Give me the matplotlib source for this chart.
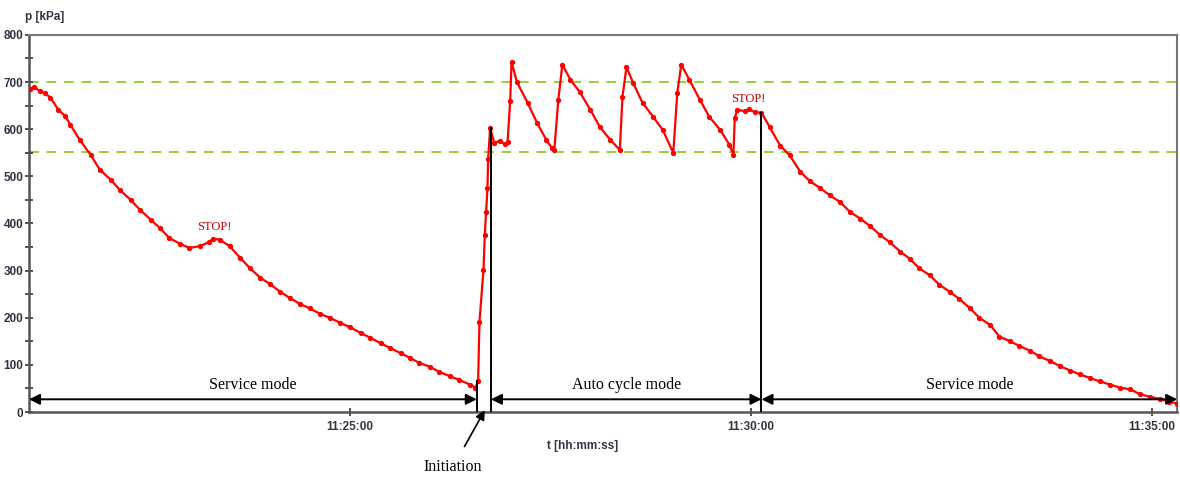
import matplotlib
matplotlib.use("Agg")
import matplotlib.pyplot as plt
from matplotlib.ticker import MultipleLocator, FuncFormatter

# time in seconds after 11:21:00, pressure in kPa
t_sec = [1, 4, 8, 12, 16, 22, 27, 31, 38, 46, 53, 61, 68, 76, 83, 91, 98, 105, 113, 120, 128,
         135, 138, 143, 150, 158, 165, 173, 180, 188, 195, 203, 210, 218, 225, 233, 240, 248,
         255, 263, 270, 278, 285, 292, 300, 307, 315, 322, 330, 334,
         336, 337, 340, 341, 342, 343, 343.5, 345,
         348, 352, 356, 358, 360, 361, 365, 373, 380, 387, 391, 393, 396, 399, 405,
         412, 420, 427, 435, 442, 444, 447, 452, 459, 467, 474, 482, 485, 488, 494,
         502, 509, 517, 524, 527, 528, 530, 536, 539, 543, 548,
         554, 562, 569, 577, 584, 592, 599, 607, 614, 622, 629, 637, 644, 652, 659,
         666, 674, 681, 689, 696, 704, 711, 719, 726, 734, 741, 749, 756, 764, 771,
         779, 786, 794, 801, 809, 816, 824, 831, 839, 846, 853, 859]
p_kpa = [685, 690, 680, 676, 667, 641, 628, 609, 577, 546, 514, 493, 471, 450, 429, 408, 390, 369,
         357, 348, 352,
         361, 368, 365, 352, 327, 306, 285, 272, 255, 242, 229, 220, 208, 200, 189, 180, 168,
         158, 146, 136, 125, 115, 104, 96, 85, 76, 68, 58, 52,
         65, 191, 301, 376, 425, 476, 537, 603,
         571, 575, 568, 572, 660, 743, 700, 656, 614, 577, 561, 556, 662, 737, 705,
         679, 641, 605, 577, 556, 669, 732, 698, 656, 626, 599, 550, 677, 737, 705,
         662, 626, 599, 567, 546, 624, 641, 638, 642, 636, 635,
         605, 565, 545, 510, 490, 475, 460, 445, 425, 410, 395, 375, 360, 340, 325,
         305, 290, 270, 255, 240, 220, 200, 185, 160, 150, 140, 130, 118, 108, 98,
         88, 80, 72, 65, 58, 52, 48, 38, 32, 28, 22, 18]

limits = [700, 552]
t_init, t_auto, t_stop = 335, 345.6, 548
t_end = 859
mode_labels = ["Service mode", "Auto cycle mode", "Service mode"]
stop_marks = [(139, 393), (538, 665)]

plt.rcParams["font.family"] = ["Liberation Sans", "DejaVu Sans"]


def fmt_time(s, pos):
    s = int(round(s)) + 11 * 3600 + 21 * 60
    return "%d:%02d:%02d" % (s // 3600, (s % 3600) // 60, s % 60)


fig = plt.figure(figsize=(11.8, 4.78), dpi=100)
ax = fig.add_axes([0.0246, 0.138, 0.973, 0.789])

for lv in limits:
    ax.axhline(lv, color="#9acd32", lw=1.4, dashes=(5, 4), zorder=1)

ax.plot(t_sec, p_kpa, color="#ff0000", lw=1.6, marker="o", ms=2.8, zorder=3)

# mode boundaries
ax.plot([t_init, t_init], [0, 66], color="black", lw=1.4, zorder=4)
ax.plot([t_auto, t_auto], [0, 603], color="black", lw=1.4, zorder=4)
ax.plot([t_stop, t_stop], [0, 635], color="black", lw=1.4, zorder=4)

y_arr = 27
spans = [(0, t_init), (t_auto, t_stop), (t_stop, t_end)]
for (a, b), lab in zip(spans, mode_labels):
    ax.annotate("", xy=(b, y_arr), xytext=(a, y_arr),
                arrowprops=dict(arrowstyle="<|-|>", color="black", lw=1.4,
                                mutation_scale=16, shrinkA=0, shrinkB=0), zorder=5)
    ax.text((a + b) / 2, y_arr + 13, lab, ha="center", va="bottom",
            family="Liberation Serif", fontsize=11.5)

for x, y in stop_marks:
    ax.text(x, y, "STOP!", color="#c00000", ha="center", va="center",
            family="Liberation Serif", fontsize=9)

ax.annotate("Initiation", xy=(341, 4), xytext=(453 / 1180, 1 - 467 / 478),
            textcoords="figure fraction", ha="center", va="center",
            family="Liberation Serif", fontsize=11.5,
            arrowprops=dict(arrowstyle="-|>", color="black", lw=1.2,
                            mutation_scale=14, shrinkA=8, shrinkB=0))

ax.set_xlim(0, t_end)
ax.set_ylim(0, 800)
ax.set_xticks([240, 540, 840])
ax.xaxis.set_major_formatter(FuncFormatter(fmt_time))
ax.yaxis.set_major_locator(MultipleLocator(100))
ax.yaxis.set_minor_locator(MultipleLocator(50))
ax.tick_params(axis="both", which="both", direction="inout", length=6,
               width=1.2, colors="#333333", labelsize=8.5)
ax.tick_params(axis="y", pad=1)
for lab in ax.get_xticklabels() + ax.get_yticklabels():
    lab.set_fontweight("bold")
    lab.set_color("#333344")

for side in ["left", "bottom"]:
    ax.spines[side].set_color("#555555")
    ax.spines[side].set_linewidth(1.8)
for side in ["top", "right"]:
    ax.spines[side].set_color("#777777")
    ax.spines[side].set_linewidth(1.5)

fig.text(25 / 1180, 1 - 17 / 478, "p [kPa]", fontsize=8.5, fontweight="bold",
         color="#333344", va="center")
fig.text(583 / 1180, 1 - 446 / 478, "t [hh:mm:ss]", fontsize=8.5, fontweight="bold",
         color="#333344", ha="center", va="center")

fig.savefig("out.png", dpi=100)
